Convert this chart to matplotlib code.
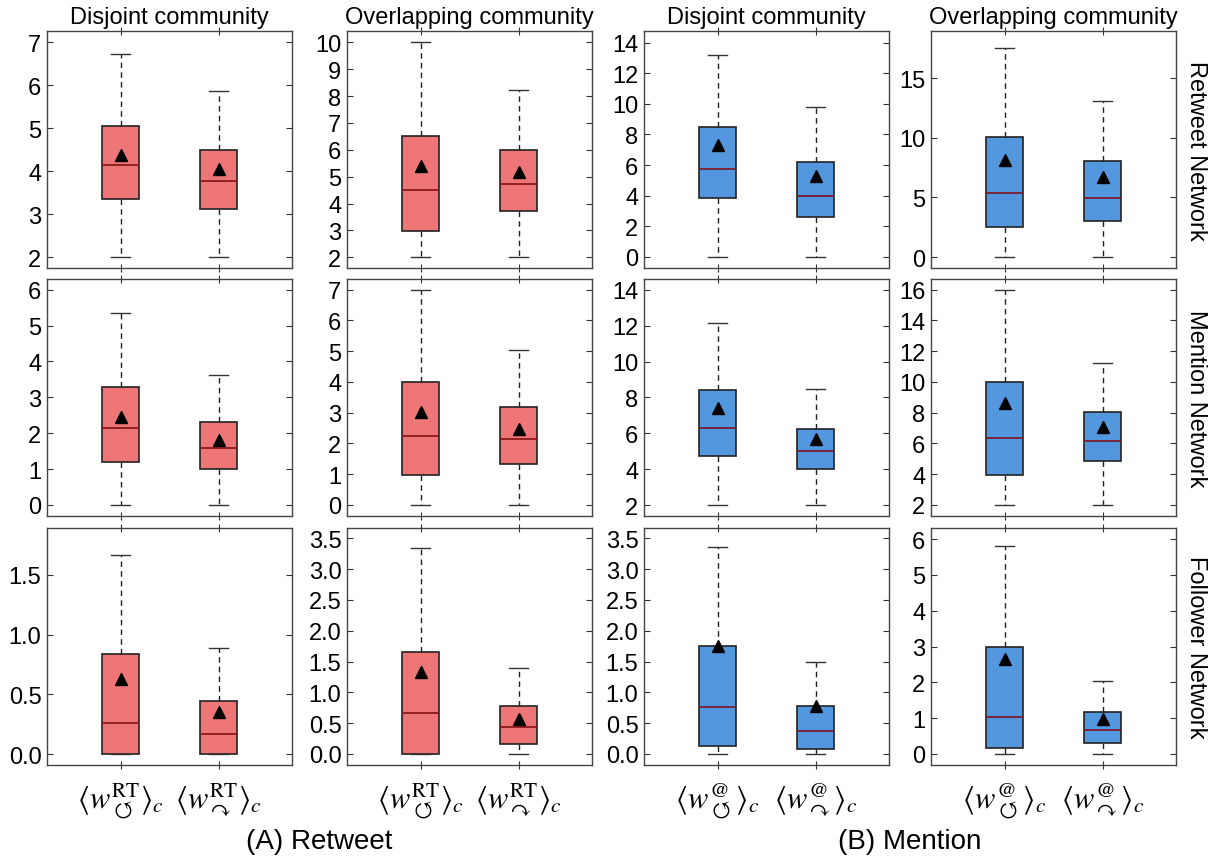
import matplotlib
matplotlib.use('Agg')
import matplotlib.pyplot as plt
from matplotlib.ticker import MultipleLocator

plt.rcParams['font.family'] = ['Liberation Sans', 'DejaVu Sans']
plt.rcParams['mathtext.fontset'] = 'stix'

# panel grid: rows = network, cols = community type (A: retweet, B: mention)
row_names = ['Retweet Network', 'Mention Network', 'Follower Network']
col_names = ['Disjoint community', 'Overlapping community',
             'Disjoint community', 'Overlapping community']
group_names = ['(A) Retweet', '(B) Mention']
xlabels_rt = [r'$\langle w^{\mathrm{RT}}_{\circlearrowleft}\rangle_c$',
              r'$\langle w^{\mathrm{RT}}_{\curvearrowright}\rangle_c$']
xlabels_at = [r'$\langle w^{@}_{\circlearrowleft}\rangle_c$',
              r'$\langle w^{@}_{\curvearrowright}\rangle_c$']

# box statistics [row][col][box]
whishi = [
    [[6.72, 5.86], [10.0, 8.22], [13.17, 9.8], [17.48, 13.1]],
    [[5.36, 3.63], [7.0, 5.05], [12.16, 8.46], [16.0, 11.23]],
    [[1.667, 0.887], [3.337, 1.403], [3.354, 1.485], [5.82, 2.04]],
]
q3 = [
    [[5.05, 4.5], [6.51, 5.99], [8.52, 6.18], [10.02, 8.02]],
    [[3.28, 2.31], [4.0, 3.2], [8.43, 6.24], [10.0, 8.03]],
    [[0.839, 0.446], [1.663, 0.78], [1.75, 0.78], [3.0, 1.18]],
]
med = [
    [[4.15, 3.78], [4.5, 4.73], [5.73, 3.99], [5.34, 4.98]],
    [[2.15, 1.60], [2.24, 2.13], [6.29, 4.99], [6.33, 6.18]],
    [[0.259, 0.170], [0.672, 0.439], [0.758, 0.374], [1.02, 0.678]],
]
q1 = [
    [[3.36, 3.13], [2.98, 3.72], [3.86, 2.59], [2.48, 3.03]],
    [[1.21, 0.99], [0.99, 1.33], [4.75, 4.01], [3.97, 4.86]],
    [[0.0, 0.0], [0.0, 0.163], [0.13, 0.076], [0.176, 0.316]],
]
whislo = [
    [[2, 2], [2, 2], [0, 0], [0, 0]],
    [[0, 0], [0, 0], [2, 2], [2, 2]],
    [[0, 0], [0, 0], [0, 0], [0, 0]],
]
means = [
    [[4.38, 4.05], [5.40, 5.17], [7.34, 5.3], [8.1, 6.7]],
    [[2.46, 1.81], [3.01, 2.48], [7.42, 5.70], [8.61, 7.09]],
    [[0.625, 0.349], [1.338, 0.563], [1.745, 0.78], [2.64, 0.975]],
]

ylims = [
    [(1.75, 7.26), (1.60, 10.42), (-0.72, 14.76), (-0.92, 18.94)],
    [(-0.31, 6.30), (-0.36, 7.35), (1.39, 14.6), (1.28, 16.69)],
    [(-0.092, 1.893), (-0.179, 3.668), (-0.179, 3.668), (-0.31, 6.31)],
]
ysteps = [[1, 1, 2, 5], [1, 1, 2, 2], [0.5, 0.5, 0.5, 1]]

red = '#EE7677'
blue = '#5398DE'
W, H = 1211, 862
lefts = [47, 347, 644, 931]
tops = [32, 280, 529]
aw, ah = 245, 237

fig = plt.figure(figsize=(W / 100, H / 100), dpi=100)

for r in range(3):
    for c in range(4):
        ax = fig.add_axes([lefts[c] / W, 1 - (tops[r] + ah) / H, aw / W, ah / H])
        stats = []
        for b in range(2):
            stats.append(dict(med=med[r][c][b], q1=q1[r][c][b], q3=q3[r][c][b],
                              whislo=whislo[r][c][b], whishi=whishi[r][c][b],
                              mean=means[r][c][b], fliers=[]))
        fill = red if c < 2 else blue
        medc = '#8A1A1A' if c < 2 else '#7A1C30'
        ax.bxp(stats, positions=[1, 2], widths=0.375, showmeans=True,
               patch_artist=True, showfliers=False,
               boxprops=dict(facecolor=fill, edgecolor='#222222', linewidth=1.2),
               medianprops=dict(color=medc, linewidth=1.3),
               whiskerprops=dict(color='#222222', linewidth=1.0, linestyle=(0, (4, 3))),
               capprops=dict(color='#333333', linewidth=1.0),
               meanprops=dict(marker='^', markerfacecolor='black',
                              markeredgecolor='black', markersize=9))
        ax.set_xlim(0.25, 2.75)
        ax.set_ylim(*ylims[r][c])
        ax.yaxis.set_major_locator(MultipleLocator(ysteps[r][c]))
        ax.tick_params(axis='y', direction='in', right=True, length=4,
                       labelsize=17, color='#333333', pad=4)
        ax.tick_params(axis='x', direction='inout', top=True, length=6,
                       labelsize=22, color='#333333', pad=8)
        ax.set_xticks([1, 2])
        if r == 2:
            ax.set_xticklabels(xlabels_rt if c < 2 else xlabels_at)
        else:
            ax.set_xticklabels([])
        for s in ax.spines.values():
            s.set_color('#444444')
            s.set_linewidth(1.0)
        if r == 0:
            ax.set_title(col_names[c], fontsize=17, pad=6)
        if c == 3:
            ax.text(1.035, 0.5, row_names[r], transform=ax.transAxes, rotation=270,
                    ha='left', va='center', fontsize=17)

fig.text((47 + 591) / 2 / W, 1 - 842 / H, group_names[0], ha='center', va='center',
         fontsize=20)
fig.text((644 + 1176) / 2 / W, 1 - 842 / H, group_names[1], ha='center', va='center',
         fontsize=20)

fig.savefig('out.png', dpi=100)
